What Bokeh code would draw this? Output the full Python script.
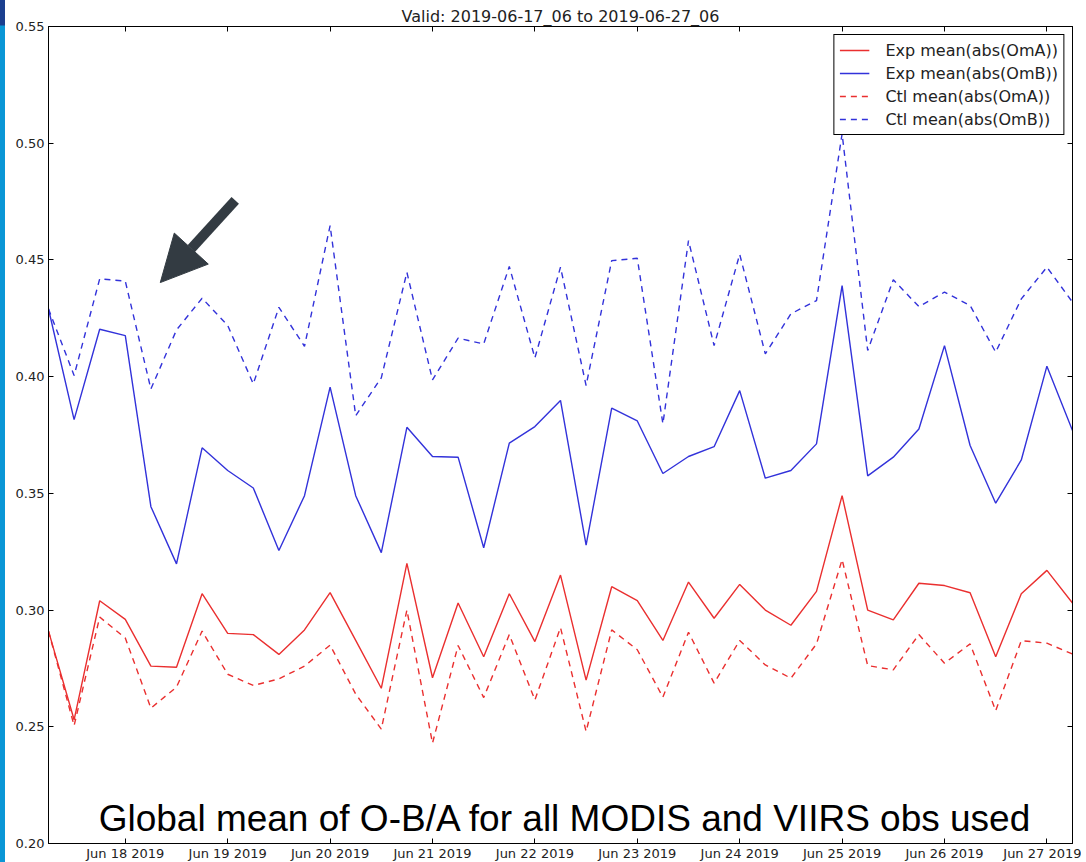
import pandas as pd
from bokeh.plotting import figure
from bokeh.models import (Range1d, FixedTicker, DatetimeTickFormatter, PrintfTickFormatter,
                          LinearAxis, DatetimeAxis, Legend, LegendItem, Label, Arrow,
                          NormalHead, Div, ColumnDataSource, CustomLabelingPolicy)
from bokeh.layouts import row
from bokeh.embed import file_html
from bokeh.resources import INLINE

# ---------------- data (6-hourly, 2019-06-17_06 .. 2019-06-27_06) ----------------
start_time = "2019-06-17 06:00"
n_times = 41
exp_oma = [0.291, 0.253, 0.304, 0.296, 0.276, 0.2755, 0.307, 0.290, 0.2895, 0.281,
           0.2915, 0.3075, 0.287, 0.2665, 0.320, 0.271, 0.303, 0.280, 0.307, 0.2865,
           0.315, 0.270, 0.310, 0.304, 0.287, 0.312, 0.2965, 0.311, 0.300, 0.2935,
           0.308, 0.349, 0.300, 0.2958, 0.3115, 0.3105, 0.3074, 0.280, 0.307, 0.317,
           0.303]
exp_omb = [0.429, 0.3816, 0.4203, 0.4176, 0.3443, 0.3198, 0.3695, 0.3598, 0.3523, 0.3255,
           0.349, 0.3955, 0.349, 0.3246, 0.3783, 0.3658, 0.3655, 0.3267, 0.3715, 0.3786,
           0.3898, 0.3278, 0.3865, 0.3810, 0.3585, 0.3658, 0.370, 0.394, 0.3565, 0.3598,
           0.3712, 0.439, 0.3575, 0.3655, 0.3776, 0.4133, 0.3705, 0.3458, 0.3643, 0.4045,
           0.3769]
ctl_oma = [0.291, 0.2505, 0.297, 0.288, 0.258, 0.267, 0.291, 0.2725, 0.2677, 0.2705,
           0.276, 0.285, 0.264, 0.249, 0.300, 0.243, 0.2848, 0.2625, 0.2895, 0.2615,
           0.2925, 0.248, 0.2915, 0.283, 0.2627, 0.2905, 0.2687, 0.287, 0.2765, 0.2708,
           0.2855, 0.3216, 0.2762, 0.2744, 0.2895, 0.2772, 0.2855, 0.2569, 0.2869, 0.2858,
           0.2812]
ctl_omb = [0.429, 0.4005, 0.4419, 0.4409, 0.3947, 0.420, 0.4336, 0.4219, 0.3969, 0.4297,
           0.4130, 0.4647, 0.3833, 0.3995, 0.4447, 0.3986, 0.4165, 0.414, 0.4472, 0.408,
           0.4469, 0.3962, 0.4497, 0.4507, 0.3798, 0.4583, 0.4133, 0.4524, 0.4098, 0.4269,
           0.4326, 0.504, 0.4112, 0.4415, 0.430, 0.4362, 0.4305, 0.4105, 0.4333, 0.4469,
           0.4319]
series_labels = ["Exp mean(abs(OmA))", "Exp mean(abs(OmB))",
                 "Ctl mean(abs(OmA))", "Ctl mean(abs(OmB))"]
tick_days = ["2019-06-18", "2019-06-19", "2019-06-20", "2019-06-21", "2019-06-22",
             "2019-06-23", "2019-06-24", "2019-06-25", "2019-06-26", "2019-06-27"]
y_ticks = [0.20, 0.25, 0.30, 0.35, 0.40, 0.45, 0.50, 0.55]
title_text = "Valid: 2019-06-17_06 to 2019-06-27_06"
note_text = "Global mean of O-B/A for all MODIS and VIIRS obs used"

# ---------------- build ----------------
times = pd.date_range(start_time, periods=n_times, freq="6h")
src = ColumnDataSource(dict(t=times, exp_oma=exp_oma, exp_omb=exp_omb,
                            ctl_oma=ctl_oma, ctl_omb=ctl_omb))

def ms(ts):
    return pd.Timestamp(ts).value / 1e6

RED = "#ea2f2f"
BLUE = "#3232da"
INK = "#222222"
FONT = "DejaVu Sans"

p = figure(frame_width=1024, frame_height=817, x_axis_type="datetime",
           output_backend="svg", toolbar_location=None,
           x_range=Range1d(ms(times[0]), ms(times[-1])),
           y_range=Range1d(0.20, 0.55),
           min_border_left=43, min_border_right=9, min_border_top=26, min_border_bottom=19)
p.background_fill_color = "white"
p.border_fill_color = "white"
p.outline_line_color = "black"
p.outline_line_width = 1
p.xgrid.visible = False
p.ygrid.visible = False

p.title.text = title_text
p.title.align = "center"
p.title.text_font = FONT
p.title.text_font_size = "16px"
p.title.text_font_style = "normal"
p.title.text_color = INK
p.title.standoff = 2
p.title.offset = 0

r1 = p.line("t", "exp_oma", source=src, line_color=RED, line_width=1.4)
r2 = p.line("t", "exp_omb", source=src, line_color=BLUE, line_width=1.4)
r3 = p.line("t", "ctl_oma", source=src, line_color=RED, line_width=1.4, line_dash="6 5")
r4 = p.line("t", "ctl_omb", source=src, line_color=BLUE, line_width=1.4, line_dash="6 5")

xticker = FixedTicker(ticks=[ms(d) for d in tick_days])
fmt = "%b %d %Y"
xformatter = DatetimeTickFormatter(days=fmt, hours=fmt, months=fmt, years=fmt,
                                   hourmin=fmt, minutes=fmt, context=None)
yticker = FixedTicker(ticks=y_ticks)

def style_axis(ax, labels=True):
    ax.major_tick_in = 5
    ax.major_tick_out = 0
    ax.minor_tick_line_color = None
    ax.axis_line_color = "black"
    ax.major_tick_line_color = "black"
    ax.major_label_text_font = FONT
    ax.major_label_text_color = INK
    if labels:
        ax.major_label_text_font_size = "13px"
        ax.major_label_standoff = 4
    else:
        # mirror axis: ticks only, no labels drawn and no space reserved
        ax.major_label_text_font_size = "0px"
        ax.major_label_policy = CustomLabelingPolicy(code="return []")
        ax.major_label_standoff = 0

xa = p.xaxis[0]
xa.ticker = xticker
xa.formatter = xformatter
style_axis(xa)
xa.major_label_standoff = 2

ya = p.yaxis[0]
ya.ticker = yticker
ya.formatter = PrintfTickFormatter(format="%.2f")
style_axis(ya)

top = DatetimeAxis(ticker=xticker, formatter=xformatter)
style_axis(top, labels=False)
p.add_layout(top, "above")
right = LinearAxis(ticker=yticker, formatter=PrintfTickFormatter(format="%.2f"))
style_axis(right, labels=False)
p.add_layout(right, "right")

legend = Legend(items=[LegendItem(label=series_labels[0], renderers=[r1]),
                       LegendItem(label=series_labels[1], renderers=[r2]),
                       LegendItem(label=series_labels[2], renderers=[r3]),
                       LegendItem(label=series_labels[3], renderers=[r4])],
                location="top_right")
legend.margin = 8
legend.padding = 5
legend.spacing = 3
legend.glyph_width = 30
legend.glyph_height = 20
legend.label_height = 20
legend.label_standoff = 16
legend.label_text_font = FONT
legend.label_text_font_size = "16px"
legend.label_text_color = INK
legend.border_line_color = "black"
legend.border_line_width = 1
legend.border_line_alpha = 1
legend.background_fill_color = "white"
legend.background_fill_alpha = 1
p.add_layout(legend, "center")

# annotation text
p.add_layout(Label(x=ms("2019-06-22 07:10"), y=0.2107, text=note_text,
                   text_font="Liberation Sans", text_font_size="37px",
                   text_color="black", text_align="center", text_baseline="alphabetic"))

# pointing arrow
ARROW = "#333b42"
p.add_layout(Arrow(end=NormalHead(size=46, fill_color=ARROW, line_color=ARROW),
                   x_start=ms("2019-06-19 01:46"), y_start=0.4755,
                   x_end=ms("2019-06-18 08:12"), y_end=0.4403,
                   line_color=ARROW, line_width=10))

strip = Div(width=5, height=862,
            styles={"background": "linear-gradient(#1b3f8f 0px, #1b3f8f 25px, #0a96d6 26px, #0a96d6 100%)",
                    "margin": "0", "padding": "0"})

layout = row(strip, p, spacing=0)
open("out.html", "w").write(file_html(layout, INLINE))
